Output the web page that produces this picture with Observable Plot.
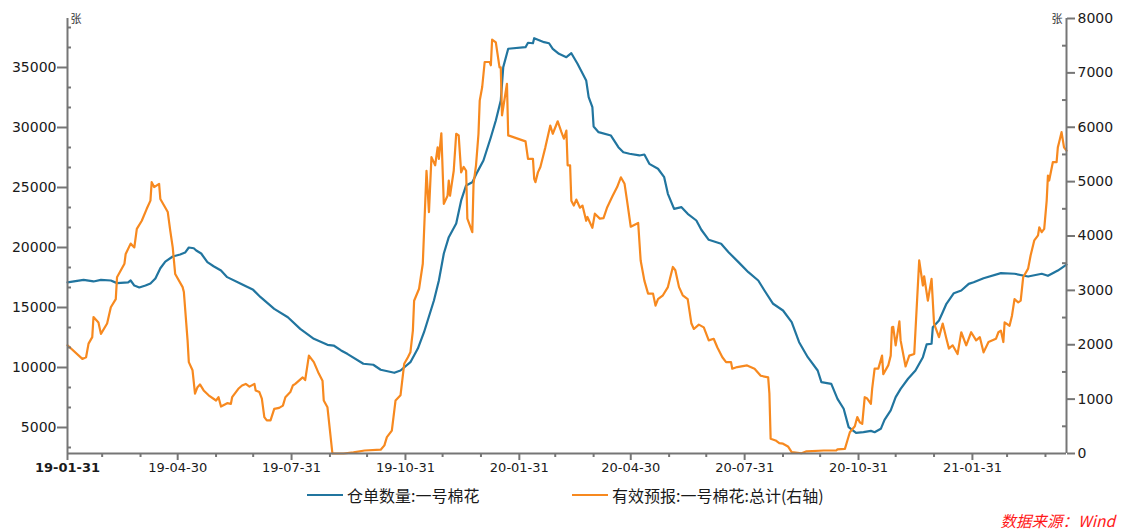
<!DOCTYPE html>
<html><head><meta charset="utf-8">
<script src="https://cdn.jsdelivr.net/npm/d3@7"></script>
<script src="https://cdn.jsdelivr.net/npm/@observablehq/plot@0.6"></script>
<style>
body{margin:0;background:#fff;}
#wrap{position:relative;width:1127px;height:530px;background:#fff;overflow:hidden;}
#wrap svg{position:absolute;left:0;top:0;}
.leg{position:absolute;top:485px;height:20px;display:flex;align-items:center;font-family:"Noto Sans CJK SC",sans-serif;font-size:16px;color:#1a1a1a;white-space:nowrap;}
.leg span.sw{display:inline-block;width:36px;height:2.5px;margin-right:4px;}
#src{position:absolute;top:511px;right:10px;height:18px;line-height:18px;padding-right:2px;font-family:"Noto Sans CJK SC",sans-serif;font-style:italic;font-size:15.5px;color:#ff1a1a;white-space:nowrap;}
</style></head><body><div id="wrap"></div>
<script>
// ---- data ----
const seriesNames = ["仓单数量:一号棉花", "有效预报:一号棉花:总计(右轴)"];
const blueDates = ["2019-01-31","2019-02-13","2019-02-21","2019-02-27","2019-03-07","2019-03-12","2019-03-21","2019-03-23","2019-03-26","2019-03-30","2019-04-04","2019-04-08","2019-04-12","2019-04-16","2019-04-20","2019-04-26","2019-05-02","2019-05-06","2019-05-09","2019-05-13","2019-05-15","2019-05-19","2019-05-24","2019-05-29","2019-06-04","2019-06-09","2019-06-20","2019-06-30","2019-07-06","2019-07-17","2019-07-28","2019-08-07","2019-08-18","2019-08-29","2019-09-03","2019-09-09","2019-09-14","2019-09-27","2019-10-05","2019-10-11","2019-10-22","2019-10-27","2019-11-04","2019-11-10","2019-11-15","2019-11-23","2019-11-27","2019-12-01","2019-12-05","2019-12-11","2019-12-15","2019-12-19","2019-12-24","2019-12-28","2020-01-02","2020-01-08","2020-01-12","2020-01-16","2020-01-18","2020-01-22","2020-02-05","2020-02-07","2020-02-11","2020-02-12","2020-02-20","2020-02-24","2020-02-27","2020-03-03","2020-03-09","2020-03-13","2020-03-18","2020-03-25","2020-03-27","2020-03-30","2020-03-31","2020-04-04","2020-04-14","2020-04-20","2020-04-24","2020-04-29","2020-05-07","2020-05-11","2020-05-15","2020-05-22","2020-05-27","2020-05-30","2020-06-04","2020-06-10","2020-06-15","2020-06-22","2020-06-26","2020-07-02","2020-07-12","2020-07-18","2020-07-26","2020-08-03","2020-08-11","2020-08-16","2020-08-23","2020-08-31","2020-09-07","2020-09-13","2020-09-20","2020-09-28","2020-10-01","2020-10-09","2020-10-14","2020-10-19","2020-10-23","2020-10-29","2020-11-04","2020-11-10","2020-11-13","2020-11-18","2020-11-21","2020-11-26","2020-11-30","2020-12-04","2020-12-10","2020-12-16","2020-12-22","2020-12-25","2020-12-29","2020-12-30","2021-01-04","2021-01-07","2021-01-10","2021-01-16","2021-01-22","2021-01-28","2021-02-01","2021-02-09","2021-02-23","2021-03-06","2021-03-17","2021-03-28","2021-04-02","2021-04-10","2021-04-17"];
const blueValues = [17100,17300,17170,17300,17250,17030,17100,17250,16830,16670,16830,17000,17420,18270,18830,19250,19420,19580,20000,19940,19750,19500,18780,18440,18080,17530,16970,16470,15860,14890,14190,13220,12390,11890,11830,11420,11140,10310,10230,9810,9560,9750,10440,11580,12940,15580,17250,19500,20860,22000,23920,25170,25440,26280,27250,29190,30580,32250,35030,36560,36690,37060,37020,37440,37110,37020,36560,36140,35860,36190,35310,33920,32530,31690,30080,29610,29330,28360,27940,27810,27670,27750,26970,26560,25860,24470,23220,23360,22810,22250,21480,20640,20310,19610,18780,17940,17250,16420,15310,14750,13780,12110,10860,9750,8780,8640,7390,6560,5030,4550,4610,4720,4610,4890,5640,6420,7530,8220,9060,9750,10860,11920,11980,13360,13920,14610,15310,16190,16420,16970,17110,17440,17860,17810,17580,17810,17640,18080,18580];
const orangeDates = ["2019-01-31","2019-02-12","2019-02-15","2019-02-17","2019-02-20","2019-02-21","2019-02-25","2019-02-27","2019-03-04","2019-03-07","2019-03-11","2019-03-12","2019-03-18","2019-03-19","2019-03-23","2019-03-26","2019-03-28","2019-04-01","2019-04-05","2019-04-08","2019-04-09","2019-04-11","2019-04-15","2019-04-16","2019-04-22","2019-04-24","2019-04-26","2019-04-28","2019-05-04","2019-05-05","2019-05-08","2019-05-09","2019-05-12","2019-05-14","2019-05-16","2019-05-18","2019-05-21","2019-05-25","2019-05-31","2019-06-02","2019-06-04","2019-06-09","2019-06-12","2019-06-13","2019-06-18","2019-06-21","2019-06-24","2019-06-27","2019-07-01","2019-07-02","2019-07-05","2019-07-07","2019-07-09","2019-07-11","2019-07-14","2019-07-17","2019-07-21","2019-07-24","2019-07-26","2019-07-30","2019-08-01","2019-08-03","2019-08-06","2019-08-09","2019-08-11","2019-08-14","2019-08-18","2019-08-22","2019-08-25","2019-08-26","2019-08-29","2019-09-02","2019-09-11","2019-09-19","2019-09-28","2019-10-11","2019-10-14","2019-10-16","2019-10-20","2019-10-23","2019-10-27","2019-10-30","2019-11-02","2019-11-04","2019-11-06","2019-11-07","2019-11-11","2019-11-14","2019-11-17","2019-11-19","2019-11-21","2019-11-24","2019-11-26","2019-11-27","2019-11-29","2019-12-01","2019-12-04","2019-12-05","2019-12-06","2019-12-09","2019-12-11","2019-12-13","2019-12-15","2019-12-17","2019-12-19","2019-12-20","2019-12-24","2019-12-25","2019-12-27","2019-12-29","2019-12-30","2020-01-01","2020-01-03","2020-01-07","2020-01-08","2020-01-09","2020-01-12","2020-01-15","2020-01-16","2020-01-17","2020-01-21","2020-01-22","2020-02-05","2020-02-07","2020-02-11","2020-02-12","2020-02-13","2020-02-15","2020-02-17","2020-02-19","2020-02-21","2020-02-25","2020-02-27","2020-03-02","2020-03-05","2020-03-07","2020-03-09","2020-03-10","2020-03-12","2020-03-13","2020-03-15","2020-03-17","2020-03-20","2020-03-22","2020-03-25","2020-03-26","2020-03-30","2020-04-01","2020-04-05","2020-04-08","2020-04-11","2020-04-15","2020-04-19","2020-04-22","2020-04-25","2020-04-27","2020-04-30","2020-05-06","2020-05-08","2020-05-11","2020-05-14","2020-05-18","2020-05-20","2020-05-22","2020-05-26","2020-05-30","2020-06-03","2020-06-05","2020-06-08","2020-06-11","2020-06-15","2020-06-18","2020-06-20","2020-06-24","2020-06-28","2020-07-02","2020-07-06","2020-07-09","2020-07-13","2020-07-16","2020-07-20","2020-07-21","2020-07-25","2020-08-02","2020-08-08","2020-08-13","2020-08-19","2020-08-20","2020-08-21","2020-08-25","2020-08-28","2020-08-31","2020-09-04","2020-09-07","2020-09-15","2020-09-19","2020-10-03","2020-10-13","2020-10-14","2020-10-20","2020-10-22","2020-10-24","2020-10-28","2020-10-30","2020-11-01","2020-11-03","2020-11-05","2020-11-07","2020-11-10","2020-11-11","2020-11-13","2020-11-16","2020-11-19","2020-11-20","2020-11-24","2020-11-26","2020-11-27","2020-11-28","2020-11-30","2020-12-03","2020-12-04","2020-12-08","2020-12-11","2020-12-15","2020-12-19","2020-12-22","2020-12-23","2020-12-26","2020-12-29","2020-12-31","2021-01-04","2021-01-07","2021-01-10","2021-01-12","2021-01-15","2021-01-19","2021-01-22","2021-01-26","2021-01-30","2021-02-03","2021-02-06","2021-02-09","2021-02-13","2021-02-19","2021-02-21","2021-02-23","2021-02-25","2021-02-26","2021-03-02","2021-03-04","2021-03-06","2021-03-09","2021-03-11","2021-03-13","2021-03-17","2021-03-19","2021-03-22","2021-03-25","2021-03-26","2021-03-28","2021-03-30","2021-04-01","2021-04-02","2021-04-03","2021-04-06","2021-04-09","2021-04-10","2021-04-11","2021-04-13","2021-04-15","2021-04-17"];
const orangeValues = [1990,1740,1770,2020,2140,2510,2410,2200,2390,2690,2840,3240,3490,3670,3860,3790,4130,4280,4500,4650,4990,4900,4960,4680,4440,4100,3790,3300,3060,2970,2080,1680,1530,1100,1220,1270,1160,1070,975,1035,864,925,914,1035,1190,1250,1280,1230,1280,1160,1130,1010,670,610,610,820,840,880,1035,1130,1250,1280,1340,1400,1350,1800,1680,1470,1340,975,850,0,0,20,55,70,150,300,420,975,1070,1650,1770,1860,2260,2810,3030,3490,5200,4440,5450,5300,5630,5420,5890,4590,4740,5020,4740,5200,5880,5850,5170,5270,5200,4320,4070,4960,5300,5880,6490,6740,7200,7200,7140,7610,7560,7100,7100,6220,6800,5850,5740,5420,5420,5050,4990,5170,5270,5450,5630,6030,5880,6110,5910,5790,5940,5300,5300,4650,4560,4670,4520,4560,4280,4350,4150,4410,4320,4330,4530,4720,4900,5080,4960,4650,4170,4240,3550,3180,2940,2940,2720,2840,2910,3060,3430,3370,3060,2910,2840,2390,2290,2370,2320,2080,2110,1950,1770,1680,1680,1560,1590,1620,1560,1430,1400,1100,270,240,190,180,130,25,5,40,55,55,75,85,240,390,500,670,575,545,1035,1010,915,1190,1560,1560,1800,1460,1620,1800,2320,2330,1990,2430,2080,1600,1800,1830,3550,3090,3260,2810,3210,2390,2140,2390,2110,1930,1990,1830,2230,1990,2230,2080,2140,1860,2050,2110,2230,2260,2050,2410,2350,2540,2840,2780,2810,3240,3400,3640,3920,4010,4160,4070,4130,4650,5110,5020,5360,5360,5630,5720,5910,5630,5570];
const xDomain = ["2019-01-31", "2021-04-17"];
const xMajorTicks = ["2019-01-31","2019-04-30","2019-07-31","2019-10-31","2020-01-31","2020-04-30","2020-07-31","2020-10-31","2021-01-31"];
const xMinorTicks = ["2019-02-28","2019-03-31","2019-05-31","2019-06-30","2019-08-31","2019-09-30","2019-11-30","2019-12-31","2020-02-29","2020-03-31","2020-05-31","2020-06-30","2020-08-31","2020-09-30","2020-11-30","2020-12-31","2021-02-28","2021-03-31"];
const leftDomain = [2833, 39083];
const leftMajorTicks = [5000,10000,15000,20000,25000,30000,35000];
const leftMinorTicks = [3333,6667,8333,11667,13333,16667,18333,21667,23333,26667,28333,31667,33333,36667,38333];
const rightMax = 8000;
const rightMajorTicks = [0,1000,2000,3000,4000,5000,6000,7000,8000];
const rightMinorTicks = [500,1500,2500,3500,4500,5500,6500,7500];
const unitLabel = "张";
const sourceText = "数据来源：Wind";

// ---- build ----
const parse = d3.utcParse("%Y-%m-%d");
const fmt = d3.utcFormat("%y-%m-%d");
const blue = blueDates.map((d, i) => ({date: parse(d), value: blueValues[i]}));
const orange = orangeDates.map((d, i) => ({date: parse(d), value: orangeValues[i]}));
const [L0, L1] = leftDomain;
const toLeft = v => L0 + v / rightMax * (L1 - L0);
const fromLeft = y => Math.round((y - L0) / (L1 - L0) * rightMax);

const W = 1127, H = 475, mL = 67, mR = 61, mT = 18, mB = 22;
const innerW = W - mL - mR;
const BLUE = "#21759f", ORANGE = "#f7891f", AX = "#767676";

const chart = Plot.plot({
  width: W, height: H,
  marginLeft: mL, marginRight: mR, marginTop: mT, marginBottom: mB,
  style: {fontFamily: "DejaVu Sans, sans-serif", background: "white", color: "#1a1a1a", overflow: "visible"},
  x: {type: "utc", domain: xDomain.map(parse), label: null},
  y: {domain: leftDomain, label: null},
  marks: [
    Plot.lineY(blue, {x: "date", y: "value", stroke: BLUE, strokeWidth: 2.2}),
    Plot.lineY(orange, {x: "date", y: d => toLeft(d.value), stroke: ORANGE, strokeWidth: 2.2}),
    Plot.ruleX([parse(xDomain[0])], {stroke: AX, strokeWidth: 2}),
    Plot.ruleX([parse(xDomain[1])], {stroke: AX, strokeWidth: 2}),
    Plot.ruleY([L0], {stroke: AX, strokeWidth: 2}),
    Plot.axisX(xMajorTicks.map(parse), {tickSize: 7, tickPadding: 2, tickFormat: fmt, fontSize: 13, stroke: AX, strokeWidth: 2, fill: "#1a1a1a", label: null}),
    Plot.axisX(xMinorTicks.map(parse), {tickSize: 4, tickFormat: () => "", stroke: AX, strokeWidth: 2, label: null}),
    Plot.axisY(leftMajorTicks, {anchor: "left", tickSize: 10, tickPadding: 1, tickFormat: d => String(d), fontSize: 14, stroke: AX, strokeWidth: 2, fill: "#1a1a1a", label: null}),
    Plot.tickY(leftMinorTicks, {y: d => d, stroke: AX, strokeWidth: 2, insetRight: innerW - 4}),
    Plot.axisY(rightMajorTicks.map(toLeft), {anchor: "right", tickSize: 8, tickPadding: 3, tickFormat: d => String(fromLeft(d)), fontSize: 14, stroke: AX, strokeWidth: 2, fill: "#1a1a1a", label: null}),
    Plot.tickY(rightMinorTicks, {y: toLeft, stroke: AX, strokeWidth: 2, insetLeft: innerW - 4}),
    Plot.text([unitLabel], {frameAnchor: "top-left", dx: 3, dy: 1, textAnchor: "start", lineAnchor: "middle", fontSize: 11, fontFamily: "Noto Sans CJK SC", fill: "#333"}),
    Plot.text([unitLabel], {frameAnchor: "top-right", dx: -4, dy: 1, textAnchor: "end", lineAnchor: "middle", fontSize: 11, fontFamily: "Noto Sans CJK SC", fill: "#333"})
  ]
});

const wrap = document.getElementById("wrap");
wrap.appendChild(chart);
// bold first x label
const xl = chart.querySelector('g[aria-label="x-axis tick label"]');
if (xl) { const t = xl.querySelector("text"); if (t) t.setAttribute("font-weight", "bold"); }

// legend
function legItem(left, color, name) {
  const d = document.createElement("div");
  d.className = "leg";
  d.style.left = left + "px";
  const sw = document.createElement("span");
  sw.className = "sw"; sw.style.background = color;
  d.appendChild(sw);
  d.appendChild(document.createTextNode(name));
  wrap.appendChild(d);
}
legItem(307, BLUE, seriesNames[0]);
legItem(572, ORANGE, seriesNames[1]);
const src = document.createElement("div");
src.id = "src"; src.textContent = sourceText;
wrap.appendChild(src);
</script>
</body></html>
